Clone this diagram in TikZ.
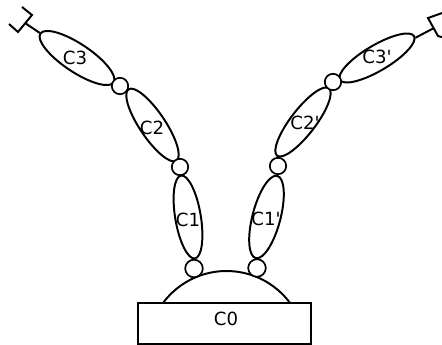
\documentclass[tikz,border=0pt]{standalone}
\usepackage{fontspec}
\newfontfamily\tagfont{DejaVu Sans}
\usetikzlibrary{shapes.geometric}
\tikzset{
  link/.style={draw, ellipse, line width=1.4pt, inner sep=0pt},
  joint/.style={draw, circle, fill=white, line width=1.2pt, inner sep=0pt, minimum size=0.41cm},
  base/.style={draw, rectangle, line width=1.4pt, inner sep=0pt, minimum width=4.325cm, minimum height=1.01cm},
  tag/.style={font=\tagfont\fontsize{12.9pt}{15pt}\selectfont, inner sep=0pt},
  wire/.style={line width=1.4pt}
}
\begin{document}
\begin{tikzpicture}[x=0.025cm,y=0.025cm]
\useasboundingbox (0,0) rectangle (442,344);

% Base and dome
\node[base] (c0) at (224.5,20.5) {};
\coordinate (domeL) at (163,41);
\draw[wire] (domeL) arc[start angle=143.5, end angle=36.5, radius=79];
\node[tag] (c0tag) at (226,25) {C0};

% Left arm
\node[link, rotate=99.5, minimum width=2.1cm, minimum height=0.64cm] (c1) at (188,127) {};
\node[link, rotate=123.9, minimum width=2.15cm, minimum height=0.64cm] (c2) at (152.5,219) {};
\node[link, rotate=146.3, minimum width=2.2cm, minimum height=0.7cm] (c3) at (77,286) {};
\node[tag] (c1tag) at (188,124) {C1};
\node[tag] (c2tag) at (152,216) {C2};
\node[tag] (c3tag) at (75,286) {C3};

% Right arm
\node[link, rotate=75.3, minimum width=2.125cm, minimum height=0.7cm] (c1p) at (266.5,127) {};
\node[link, rotate=52.5, minimum width=2.125cm, minimum height=0.62cm] (c2p) at (303,222) {};
\node[link, rotate=30.6, minimum width=2.15cm, minimum height=0.64cm] (c3p) at (377,286) {};
\node[tag] (c1ptag) at (266,125) {C1'};
\node[tag] (c2ptag) at (305,221) {C2'};
\node[tag] (c3ptag) at (377,287) {C3'};

% Joints
\foreach \name/\x/\y in {j2/180/177, j3/120/258, j2p/278/178, j3p/333/262} {
    \node[joint] (\name) at (\x,\y) {};
}
\node[joint, minimum size=0.44cm] (j1) at (194,75.5) {};
\node[joint, minimum size=0.44cm] (j1p) at (257,76) {};

% Left gripper
\coordinate (gripL) at (25,321);
\draw[wire] (c3) -- (gripL);
\draw[wire] (9,320) -- (18,312) -- (32,329) -- (22,337);

% Right gripper
\coordinate (gripR) at (434,316);
\draw[wire] (c3p) -- (gripR);
\draw[wire] (445,332) -- (428,326) -- (438,308) -- (445,306);
\end{tikzpicture}
\end{document}
